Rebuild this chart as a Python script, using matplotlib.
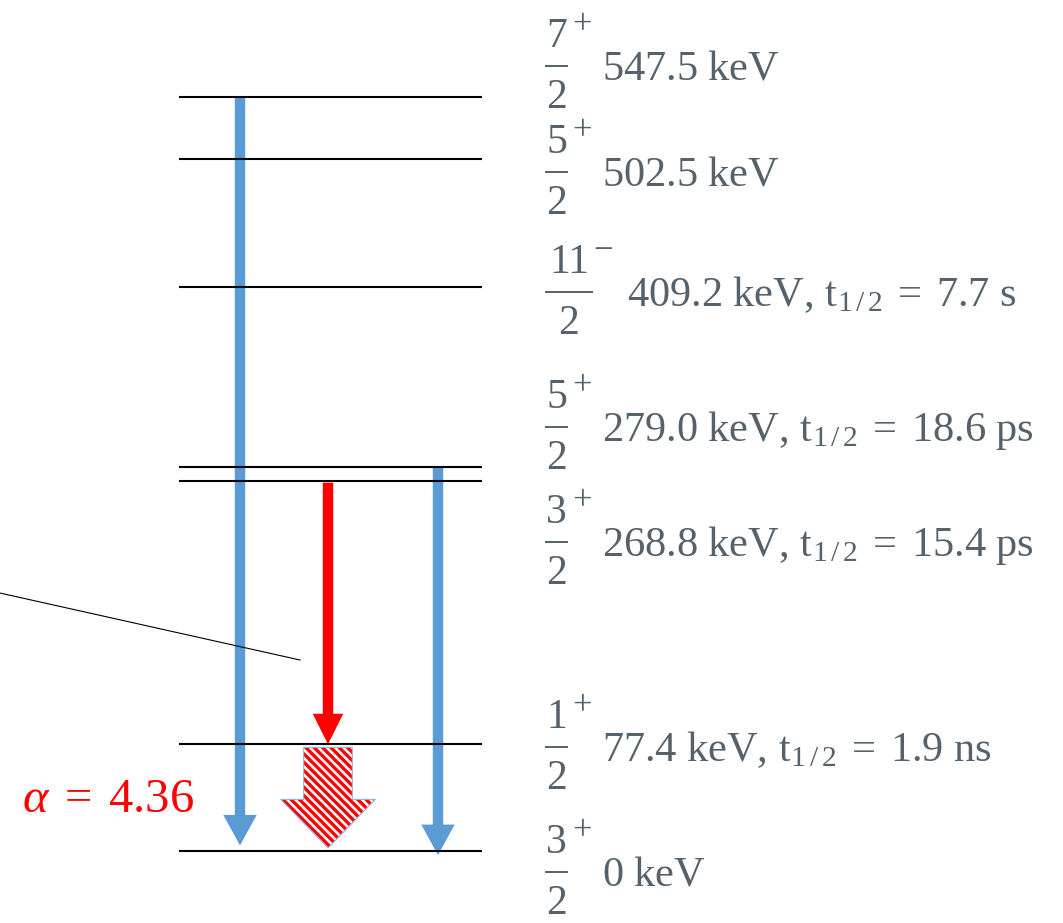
import matplotlib

matplotlib.use("Agg")
import matplotlib.pyplot as plt
from matplotlib.patches import FancyArrowPatch

# level energies (keV) with spin (numerator of J = n/2) and parity
level_energy = [547.5, 502.5, 409.2, 279.0, 268.8, 77.4, 0.0]
spin_num = ["7", "5", "11", "5", "3", "1", "3"]
parity = ["+", "+", "\u2212", "+", "+", "+", "+"]
T_HALF = r"\mathrm{keV,}\,\mathrm{t}_{1\,/\,2}\;=\;"
level_text = [r"547.5\ \mathrm{keV}",
              r"502.5\ \mathrm{keV}",
              r"409.2\ " + T_HALF + r"7.7\ \mathrm{s}",
              r"279.0\ " + T_HALF + r"18.6\ \mathrm{ps}",
              r"268.8\ " + T_HALF + r"15.4\ \mathrm{ps}",
              r"77.4\ " + T_HALF + r"1.9\ \mathrm{ns}",
              r"0\ \mathrm{keV}"]
# where each label's fraction bar sits (keV scale); 279.0/268.8 spread apart
label_energy = [569.7, 492.7, 405.7, 307.7, 224.2, 75.5, -15.2]

# gamma transitions: (x, from keV, to keV)
gamma_blue = [(240, 547.5, 4.0), (438, 279.0, -3.0)]
gamma_red = (328, 267.3, 77.4)
conv_arrow = (328, 75.2, 2.2)  # internal conversion
alpha_value = 4.36

PX_PER_KEV = 1.378
GROUND_PX = 851
W, H = 1063, 923

TEXT_GREY = "#56626B"
BLUE = "#5B9BD5"
SERIF = "Liberation Serif"

plt.rcParams["mathtext.fontset"] = "custom"
plt.rcParams["mathtext.rm"] = SERIF
plt.rcParams["mathtext.it"] = SERIF + ":italic"
plt.rcParams["mathtext.bf"] = SERIF + ":bold"
plt.rcParams["hatch.linewidth"] = 2.4

fig = plt.figure(figsize=(W / 100, H / 100), dpi=100)
ax = fig.add_axes([0, 0, 1, 1])
ax.set_xlim(0, W)
ax.set_ylim((GROUND_PX - H) / PX_PER_KEV, GROUND_PX / PX_PER_KEV)
ax.axis("off")

# levels
for e in level_energy:
    ax.plot([179, 482], [e, e], color="black", lw=1.5, solid_capstyle="butt")

# spin/parity fractions and energy labels
x0 = 545
for num, par, txt, ey in zip(spin_num, parity, level_text, label_energy):
    bar_w = 25 * len(num) - 2
    xc = x0 + bar_w / 2
    ax.plot([x0, x0 + bar_w], [ey, ey], color=TEXT_GREY, lw=1.4,
            solid_capstyle="butt")
    ax.annotate(num, xy=(xc, ey), xytext=(0, 13.7), textcoords="offset points",
                ha="center", va="baseline", fontsize=30, family=SERIF,
                color=TEXT_GREY)
    ax.annotate(par, xy=(547 + 21 * len(num) + 4, ey), xytext=(0, 23),
                textcoords="offset points", ha="left", va="baseline",
                fontsize=25, family=SERIF, color=TEXT_GREY)
    ax.annotate("2", xy=(xc, ey), xytext=(0, -30.2), textcoords="offset points",
                ha="center", va="baseline", fontsize=30, family=SERIF,
                color=TEXT_GREY)
    ax.annotate("$" + txt + "$", xy=(x0 + bar_w + 34, ey), xytext=(0, -10),
                textcoords="offset points", ha="left", va="baseline",
                fontsize=30.5, color=TEXT_GREY)

# blue gamma arrows
for x, e0, e1 in gamma_blue:
    ax.add_patch(FancyArrowPatch(
        (x, e0), (x, e1),
        arrowstyle="simple,head_length=22,head_width=24,tail_width=7.5",
        mutation_scale=1, shrinkA=0, shrinkB=0,
        color=BLUE, lw=0))

# red gamma arrow
x, e0, e1 = gamma_red
ax.add_patch(FancyArrowPatch(
    (x, e0), (x, e1),
    arrowstyle="simple,head_length=22,head_width=22,tail_width=7.5",
    mutation_scale=1, shrinkA=0, shrinkB=0,
    color="red", lw=0))

# hatched conversion arrow
x, e0, e1 = conv_arrow
style = "simple,head_length=35,head_width=68,tail_width=35"
ax.add_patch(FancyArrowPatch(
    (x, e0), (x, e1), arrowstyle=style, mutation_scale=1,
    shrinkA=0, shrinkB=0, facecolor="white", edgecolor="red",
    hatch="\\\\\\\\", lw=0))
ax.add_patch(FancyArrowPatch(
    (x, e0), (x, e1), arrowstyle=style, mutation_scale=1,
    shrinkA=0, shrinkB=0, facecolor="none", edgecolor="#8FB4E3", lw=0.8))

# pointer line to the red transition
ax.plot([0, 300], [187.2, 138.6], color="black", lw=0.8)

ax.text(22, 28.3, r"$\alpha\;=\;%.2f$" % alpha_value, color="red", fontsize=35,
        ha="left", va="baseline")

fig.savefig("out.png", dpi=100)
